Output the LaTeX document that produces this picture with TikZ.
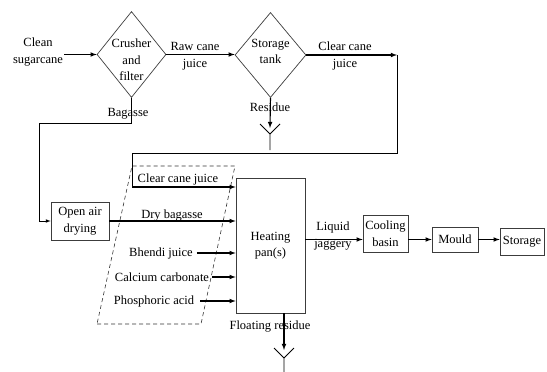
\documentclass[tikz,border=0pt]{standalone}
\usepackage{fontspec}
\setmainfont{Liberation Serif}
\usetikzlibrary{shapes.geometric}

\definecolor{boxgray}{RGB}{60,60,60}
\definecolor{dashgray}{RGB}{50,50,50}

\begin{document}
\begin{tikzpicture}[x=1pt, y=-1pt,
  font=\fontsize{12.5}{16.5}\selectfont,
  pbox/.style={draw=boxgray, line width=0.7pt, inner sep=0pt, align=center},
  pdia/.style={diamond, draw=boxgray, line width=0.7pt, inner sep=-20pt, align=center},
  lbl/.style={align=center, inner sep=1pt},
  arr/.style={black, line width=1.1pt, -latex},
  pipe/.style={black, line width=0.8pt}]

  \useasboundingbox (0,0) rectangle (547,372);

  % first stage: crushing and storage
  \node[lbl] (clean) at (38,52) {Clean\\sugarcane};
  \node[pdia, minimum width=69pt, minimum height=86pt] (crush) at (131.5,54.5)
    {\rule{0pt}{20pt}Crusher\\and\\filter};
  \node[pdia, minimum width=71pt, minimum height=85pt] (tank) at (270.5,55)
    {Storage\\tank\rule[-7pt]{0pt}{0pt}};

  \draw[arr] (clean.east |- crush.west) -- (crush.west);
  \draw[arr] (crush.east) -- (crush.east -| tank.west);
  \node[lbl] (raw) at (195,56) {Raw cane\\juice};

  \coordinate (cc1) at (397,55);
  \coordinate (cc2) at (397,153);
  \coordinate (cc3) at (132,153);
  \coordinate (cc4) at (132,187);
  \draw[arr] (tank.east) -- (cc1);
  \node[lbl] (clear) at (345,56) {Clear cane\\juice};

  % residue from the tank
  \coordinate (rs) at (270,128);
  \draw[arr] (tank.south) -- (rs);
  \draw[pipe] (rs) ++(-10,-4) -- ++(10,10) -- ++(10,-10) ++(-10,10) -- ++(0,16);
  \node[lbl] (res) at (270,107) {Residue};

  % bagasse to drying
  \coordinate (bg) at (39,123);
  \node[pbox, minimum width=58pt, minimum height=38pt] (dry) at (80,221) {Open air\\drying};
  \draw[arr, line width=0.7pt] (crush.south) |- (bg) |- (dry.west);
  \node[lbl] (bag) at (128,114) {Bagasse};

  % heating pan and its inputs
  \node[pbox, minimum width=69pt, minimum height=135pt] (pan) at (270.5,245.5) {Heating\\pan(s)};

  \draw[dashgray, line width=0.6pt, dash pattern=on 4pt off 3pt]
    (97,324) -- (201,324) -- (235,166) -- (132,166) -- cycle;

  \draw[pipe] (cc1) -- (cc2) -- (cc3) -- (cc4);
  \draw[arr] (cc4) -- (pan.west |- cc4);
  \node[lbl] (cj) at (178,179) {Clear cane juice};

  \draw[arr] (dry.east) -- (pan.west |- dry.east);
  \node[lbl] (db) at (172,216) {Dry bagasse};

  \node[lbl] (bj) at (161,253) {Bhendi juice};
  \node[lbl] (cc) at (162,277) {Calcium carbonate};
  \node[lbl] (pa) at (154,301) {Phosphoric acid};
  \draw[arr] ([xshift=3pt]bj.east) -- (pan.west |- bj.east);
  \draw[arr] ([xshift=2pt]cc.east) -- (pan.west |- cc.east);
  \draw[arr] ([xshift=5pt]pa.east) -- (pan.west |- pa.east);

  % floating residue
  \coordinate (fs) at (284,350);
  \draw[arr] (pan.south -| fs) -- (fs);
  \draw[pipe] (fs) ++(-10,-2) -- ++(10,10) -- ++(10,-10) ++(-10,10) -- ++(0,14);
  \node[lbl] (fr) at (270,327) {Floating residue};

  % finishing line
  \node[pbox, minimum width=45pt, minimum height=37pt] (cool) at (385.5,233.5) {Cooling\\basin};
  \node[pbox, minimum width=46pt, minimum height=25pt] (mould) at (455,239.5) {Mould};
  \node[pbox, minimum width=44pt, minimum height=27pt] (store) at (522,241.5) {Storage};

  \draw[arr] (pan.east |- mould) -- (cool.west |- mould);
  \node[lbl] (lj) at (333,236) {Liquid\\jaggery};
  \draw[arr] (cool.east |- mould) -- (mould.west);
  \draw[arr] (mould.east) -- (store.west |- mould);

\end{tikzpicture}
\end{document}
